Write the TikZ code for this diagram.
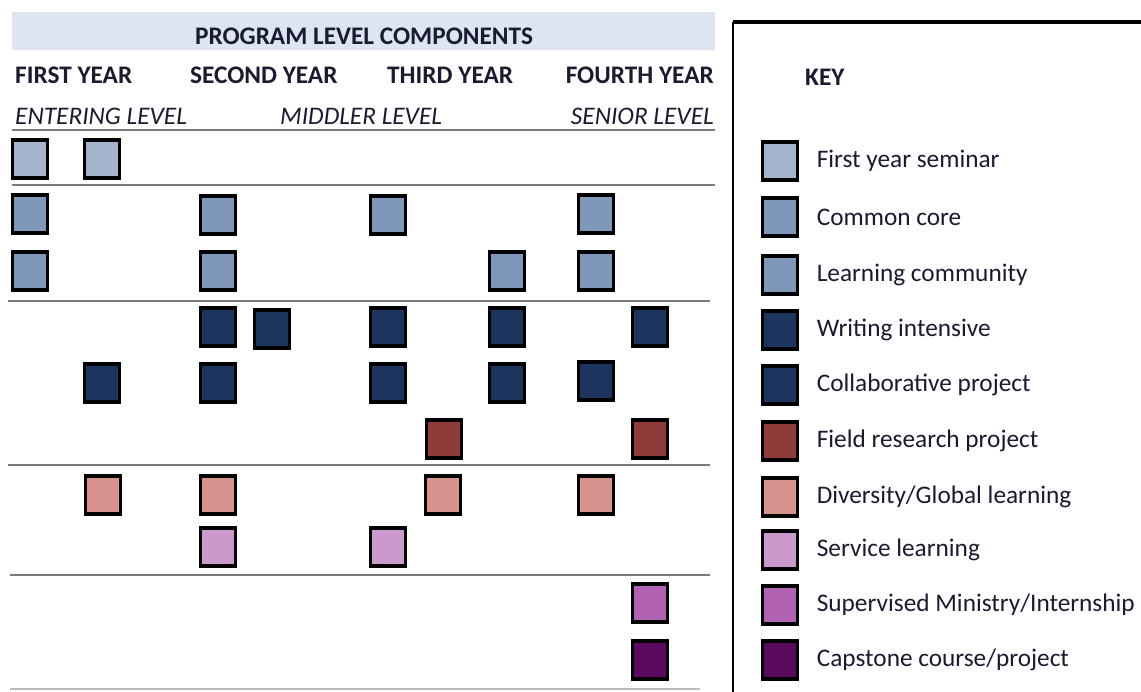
\documentclass[tikz,border=0pt]{standalone}
\usepackage{fontspec}
\setmainfont{Carlito}
\definecolor{plBand}{HTML}{DCE5F1}
\definecolor{plText}{HTML}{1A1A30}
\definecolor{plRule}{HTML}{7A7A7A}
\definecolor{plSeminar}{HTML}{A4B4CC}
\definecolor{plCore}{HTML}{7F97B8}
\definecolor{plNavy}{HTML}{1C355E}
\definecolor{plField}{HTML}{8E3B3A}
\definecolor{plDiverse}{HTML}{D9938E}
\definecolor{plService}{HTML}{CC99CC}
\definecolor{plSuper}{HTML}{B262B2}
\definecolor{plCap}{HTML}{5A0A5C}
\usepackage{tikz}
\usetikzlibrary{positioning}

\begin{document}
\begin{tikzpicture}[x=0.02cm, y=-0.02cm,
  comp/.style={draw=black, line width=1.8pt, minimum width=0.7cm, minimum height=0.76cm, inner sep=0pt},
  yearhead/.style={font=\fontsize{14.4}{17}\selectfont\bfseries, text=plText, anchor=west},
  levelhead/.style={font=\fontsize{14.4}{17}\selectfont\itshape, text=plText, anchor=west},
  keylabel/.style={font=\fontsize{14.4}{17}\selectfont, text=plText, anchor=west},
  rule/.style={plRule, line width=0.9pt}]
  \useasboundingbox (0,0) rectangle (1141,691);

  % Title band
  \fill[plBand] (12,12) rectangle (715,50);
  \node[font=\fontsize{14.4}{17}\selectfont\bfseries, text=plText] (title) at (364,36) {PROGRAM LEVEL COMPONENTS};

  % Year and level headings
  \node[yearhead] (y1) at (9,75) {FIRST YEAR};
  \node[yearhead] (y2) at (184,75) {SECOND YEAR};
  \node[yearhead] (y3) at (381,75) {THIRD YEAR};
  \node[yearhead, anchor=east] (y4) at (720,75) {FOURTH YEAR};
  \node[levelhead] (l1) at (9,116) {ENTERING LEVEL};
  \node[levelhead] (l2) at (274,116) {MIDDLER LEVEL};
  \node[levelhead, anchor=east] (l3) at (720,116) {SENIOR LEVEL};

  % Rules between groups
  \draw[rule] (12,130) -- (715,130);
  \draw[rule] (12,185) -- (715,185);
  \draw[rule] (8,301) -- (710,301);
  \draw[rule] (8,465) -- (710,465);
  \draw[rule] (10,575) -- (710,575);
  \draw[rule, plRule!50] (10,689) -- (700,689);

  % First year seminar
  \node[comp, fill=plSeminar] (fys1) at (30,159) {};
  \node[comp, fill=plSeminar] (fys2) at (102,159) {};

  % Common core
  \node[comp, fill=plCore] (cc1) at (30,214) {};
  \node[comp, fill=plCore] (cc2) at (218,215) {};
  \node[comp, fill=plCore] (cc3) at (388,215) {};
  \node[comp, fill=plCore] (cc4) at (596,214) {};

  % Learning community
  \node[comp, fill=plCore] (lc1) at (30,271) {};
  \node[comp, fill=plCore] (lc2) at (218,271) {};
  \node[comp, fill=plCore] (lc3) at (507,271) {};
  \node[comp, fill=plCore] (lc4) at (596,271) {};

  % Writing intensive
  \node[comp, fill=plNavy] (wi1) at (218,327) {};
  \node[comp, fill=plNavy] (wi2) at (272,329) {};
  \node[comp, fill=plNavy] (wi3) at (388,327) {};
  \node[comp, fill=plNavy] (wi4) at (507,327) {};
  \node[comp, fill=plNavy] (wi5) at (650,327) {};

  % Collaborative project
  \node[comp, fill=plNavy] (cp1) at (102,383) {};
  \node[comp, fill=plNavy] (cp2) at (218,383) {};
  \node[comp, fill=plNavy] (cp3) at (388,383) {};
  \node[comp, fill=plNavy] (cp4) at (507,383) {};
  \node[comp, fill=plNavy] (cp5) at (596,381) {};

  % Field research project
  \node[comp, fill=plField] (fr1) at (444,439) {};
  \node[comp, fill=plField] (fr2) at (650,439) {};

  % Diversity/Global learning
  \node[comp, fill=plDiverse] (dg1) at (103,495) {};
  \node[comp, fill=plDiverse] (dg2) at (218,495) {};
  \node[comp, fill=plDiverse] (dg3) at (443,495) {};
  \node[comp, fill=plDiverse] (dg4) at (596,495) {};

  % Service learning
  \node[comp, fill=plService] (sl1) at (218,547) {};
  \node[comp, fill=plService] (sl2) at (388,547) {};

  % Supervised ministry and capstone
  \node[comp, fill=plSuper] (sm1) at (650,603) {};
  \node[comp, fill=plCap] (cs1) at (650,660) {};

  % Key box
  \draw[line width=1.2pt] (733,700) -- (733,22);
  \draw[line width=2pt] (733,22) -- (1150,22);
  \node[font=\fontsize{14.4}{17}\selectfont\bfseries, text=plText, anchor=west] (key) at (799,77) {KEY};

  \node[comp, fill=plSeminar] (k1) at (780,161) {};
  \node[keylabel, right=0.23cm of k1] {First year seminar};
  \node[comp, fill=plCore] (k2) at (780,217) {};
  \node[keylabel, right=0.23cm of k2] {Common core};
  \node[comp, fill=plCore] (k3) at (780,275) {};
  \node[keylabel, right=0.23cm of k3] {Learning community};
  \node[comp, fill=plNavy] (k4) at (780,330) {};
  \node[keylabel, right=0.23cm of k4] {Writing intensive};
  \node[comp, fill=plNavy] (k5) at (780,385) {};
  \node[keylabel, right=0.23cm of k5] {Collaborative project};
  \node[comp, fill=plField] (k6) at (780,441) {};
  \node[keylabel, right=0.23cm of k6] {Field research project};
  \node[comp, fill=plDiverse] (k7) at (780,497) {};
  \node[keylabel, right=0.23cm of k7] {Diversity/Global learning};
  \node[comp, fill=plService] (k8) at (780,550) {};
  \node[keylabel, right=0.23cm of k8] {Service learning};
  \node[comp, fill=plSuper] (k9) at (780,605) {};
  \node[keylabel, right=0.23cm of k9] {Supervised Ministry/Internship};
  \node[comp, fill=plCap] (k10) at (780,660) {};
  \node[keylabel, right=0.23cm of k10] {Capstone course/project};

\end{tikzpicture}
\end{document}
